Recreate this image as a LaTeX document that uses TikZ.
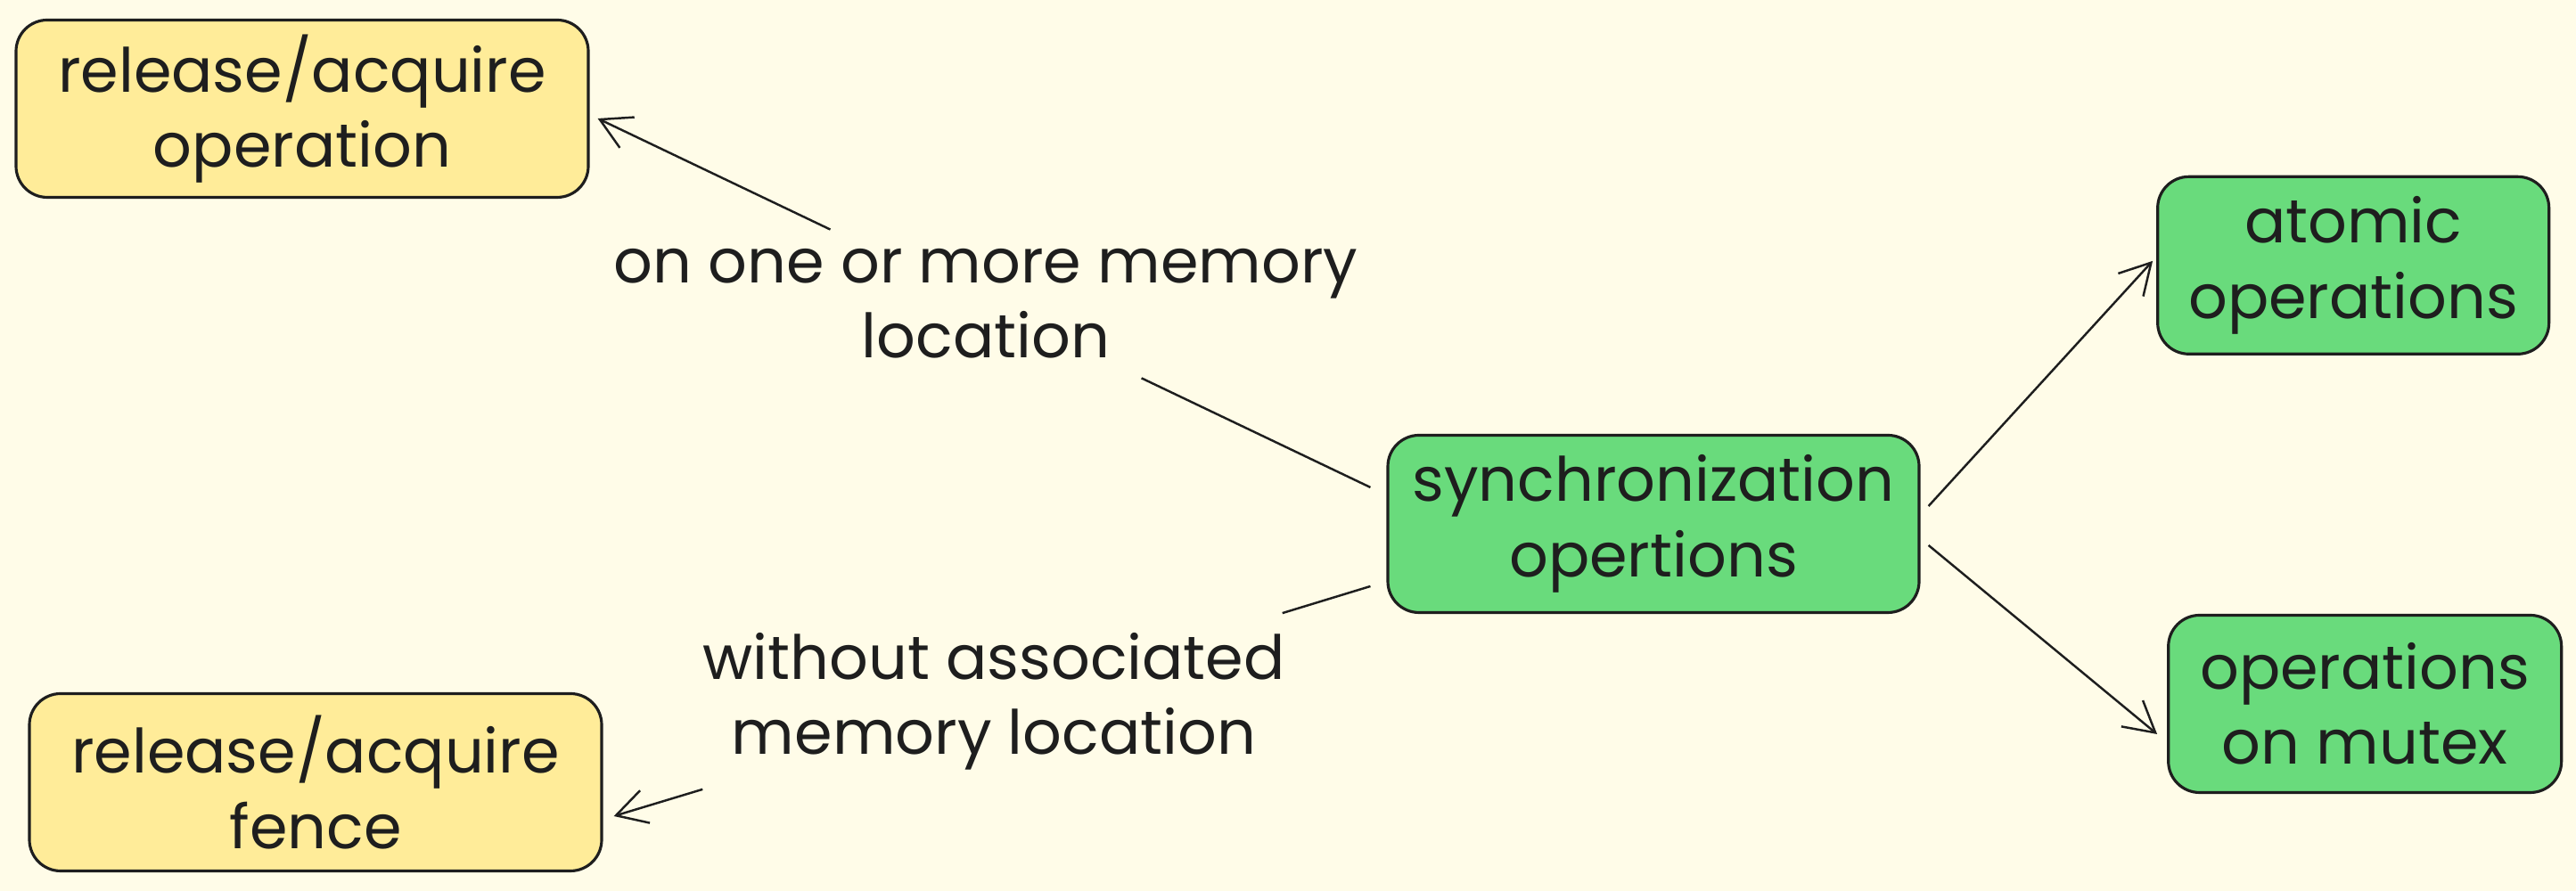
\documentclass[tikz,border=0pt]{standalone}
\usepackage{fontspec}
\setmainfont{Poppins}
\usepackage{tikz}
\usetikzlibrary{positioning,calc,arrows.meta}
\definecolor{paper}{HTML}{FFFCE8}
\definecolor{ink}{HTML}{1E1E1E}
\definecolor{sand}{HTML}{FFEC99}
\definecolor{leaf}{HTML}{69DB7C}

\begin{document}
\begin{tikzpicture}[every node/.style={font=\fontsize{19.5}{24}\selectfont, text=ink, align=center},
    opbox/.style={draw=ink, line width=0.9pt, rounded corners=0.35cm, minimum height=1.99cm, inner sep=0pt},
    link/.style={draw=ink, line width=0.7pt},
    head/.style={-{Straight Barb[length=3.4mm,width=3.8mm]}}]
      \fill[paper] (0,0) rectangle (28.9,10);
      \useasboundingbox (0,0) rectangle (28.9,10);
      \node (sync) [opbox, fill=leaf, minimum width=5.96cm] at (18.55,4.12) {synchronization\\opertions};
      \node (atomic) [opbox, fill=leaf, minimum width=4.39cm, above right=0.88cm and 2.645cm of sync] {atomic\\operations};
      \node (mutex) [opbox, fill=leaf, minimum width=4.41cm, right=2.765cm of sync, yshift=-2.02cm] {operations\\on mutex};
      \node (raop) [opbox, fill=sand, minimum width=6.42cm] at (3.39,8.78) {release/acquire\\operation};
      \node (rafence) [opbox, fill=sand, minimum width=6.42cm] at (3.54,1.22) {release/acquire\\fence};
      \node (lbl1) [inner sep=6pt] at (11.06,6.59) {on one or more memory\\location};
      \node (lbl2) [inner sep=6pt] at (11.15,2.13) {without associated\\memory location};
      \coordinate (s1) at ($(sync.west)+(-0.18,0.41)$);
      \coordinate (e1) at ($(raop.east)+(0.09,-0.11)$);
      \coordinate (s2) at ($(sync.west)+(-0.18,-0.70)$);
      \coordinate (e2) at ($(rafence.east)+(0.12,-0.38)$);
      \coordinate (s3) at ($(sync.east)+(0.09,0.20)$);
      \coordinate (e3) at ($(atomic.west)+(-0.04,0.05)$);
      \coordinate (s4) at ($(sync.east)+(0.09,-0.24)$);
      \coordinate (e4) at ($(mutex.west)+(-0.11,-0.34)$);
      \draw[link] (s1) -- (lbl1);
      \draw[link, head] (lbl1) -- (e1);
      \draw[link] (s2) -- (lbl2);
      \draw[link, head] (lbl2) -- (e2);
      \draw[link, head] (s3) -- (e3);
      \draw[link, head] (s4) -- (e4);
    \end{tikzpicture}
\end{document}
